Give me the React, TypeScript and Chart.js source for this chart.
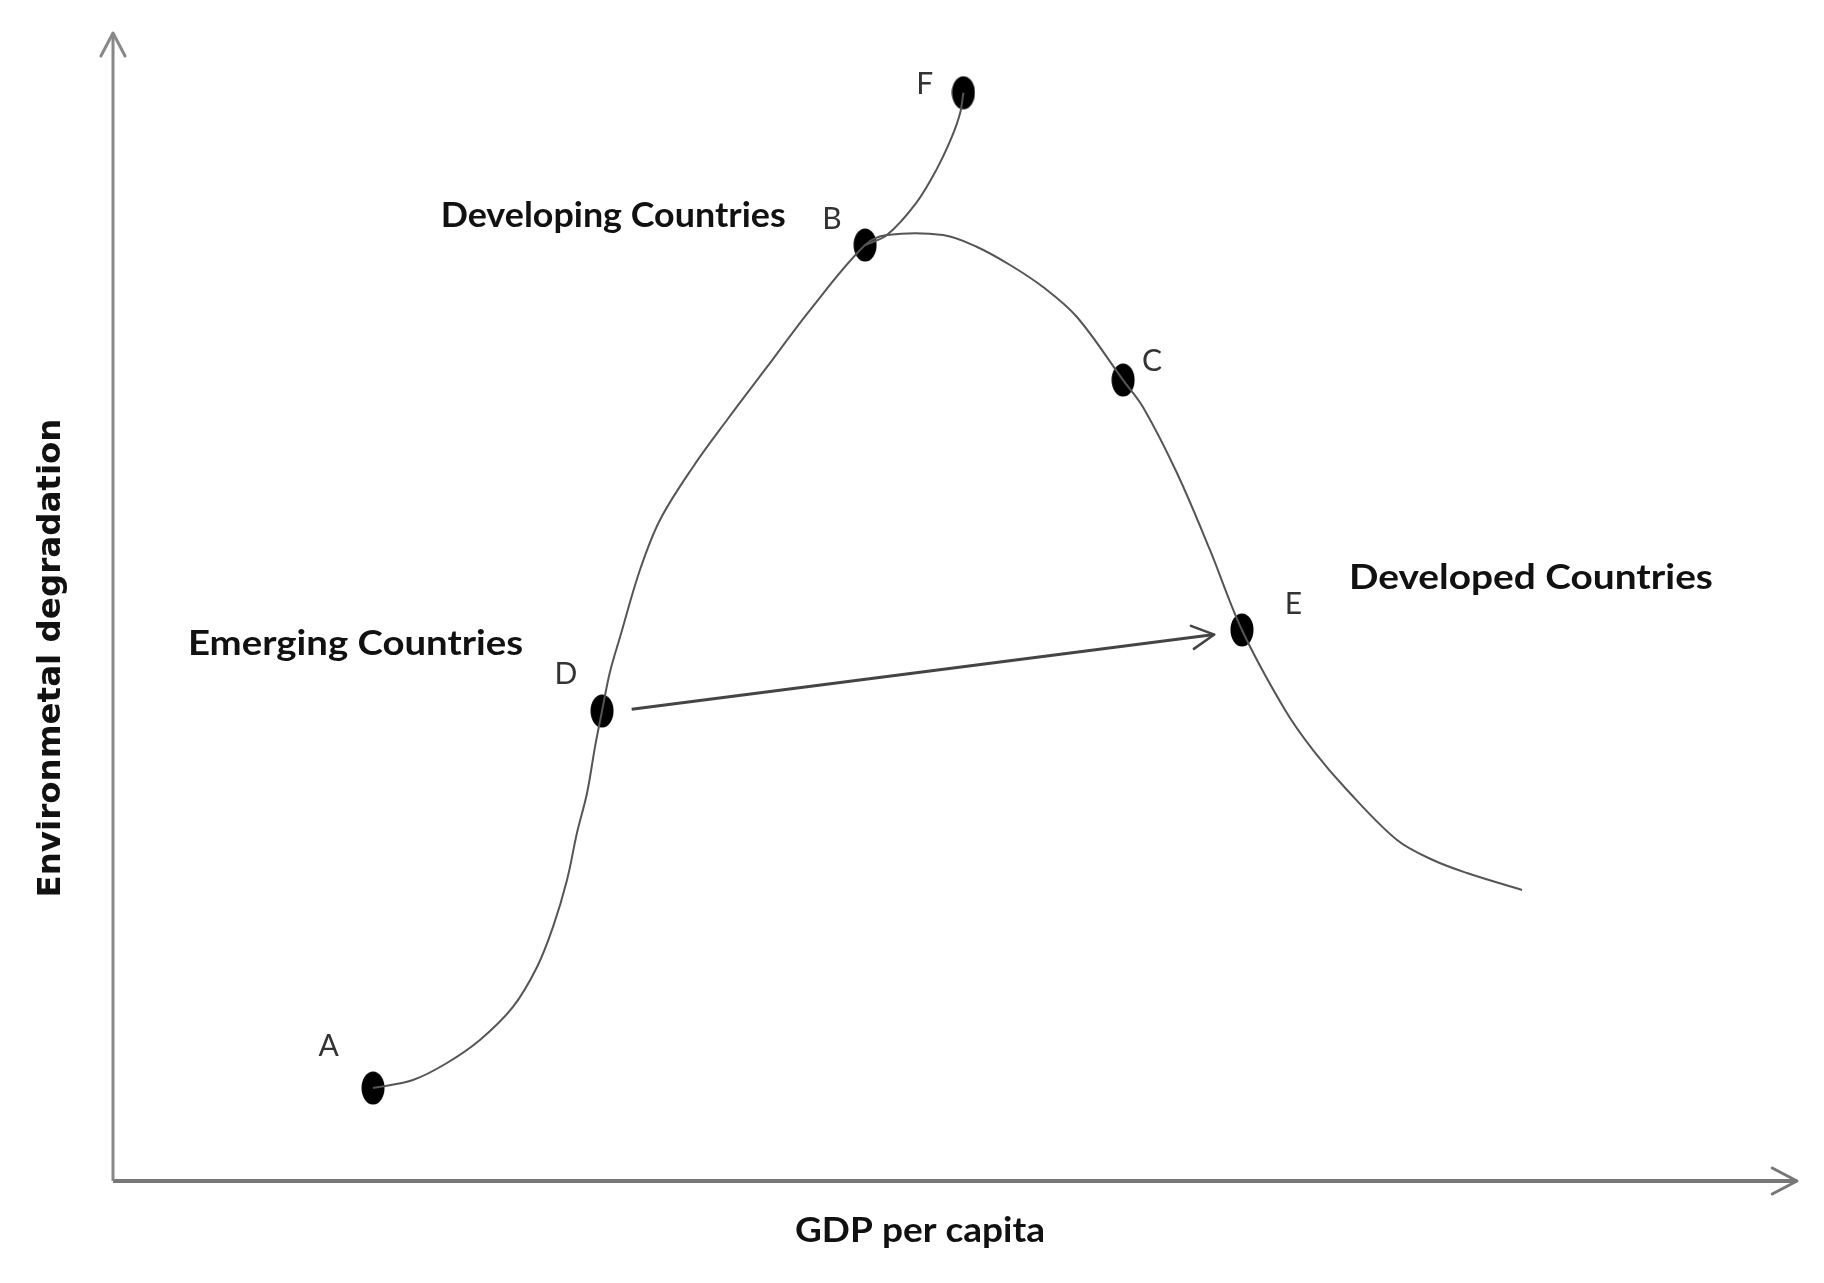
import React, { useEffect, useRef } from "react";
import { Chart, registerables } from "chart.js";

Chart.register(...registerables);

// Main curve (A -> D -> B -> flat top -> C -> E -> tail)
const curveX = [15.44, 17.81, 19.83, 21.79, 23.75, 25.18, 26.13, 26.96, 27.55, 28.15, 28.62, 29.04, 29.51, 30.11, 31.29, 32.48, 34.44, 36.46, 38.84, 41.39, 44.66, 45.96, 49.29, 51.31, 53.27, 55.23, 57.24, 59.98, 61.16, 63.18, 65.14, 67.04, 69.6, 71.26, 73.28, 76.25, 78.38, 80.4, 83.67];
const curveY = [8.1, 8.8, 10.28, 12.28, 15.16, 18.64, 22.13, 26.22, 30.31, 33.8, 37.8, 40.94, 44.34, 47.39, 53.22, 57.58, 62.2, 66.29, 70.91, 75.87, 81.53, 82.4, 82.4, 81.36, 79.79, 77.87, 75.26, 69.77, 67.42, 61.67, 54.97, 48.0, 41.03, 37.54, 34.06, 29.7, 27.96, 26.83, 25.35];

// Branch from B up to F
const branchX = [44.66, 45.96, 47.7, 48.9, 49.8, 50.3, 50.5];
const branchY = [81.53, 82.4, 85.2, 88.1, 90.9, 93.0, 94.8];

// Labelled points
const pointNames = ["A", "D", "B", "F", "C", "E"];
const pointX = [15.44, 29.04, 44.66, 50.5, 59.98, 67.04];
const pointY = [8.1, 40.94, 81.53, 94.8, 69.77, 48.0];
const letterX = [12.8, 26.9, 42.7, 48.2, 61.7, 70.1];
const letterY = [11.7, 44.1, 83.8, 95.5, 71.4, 50.2];

// Arrow D -> E
const arrowX = [30.8, 65.4];
const arrowY = [41.1, 47.6];

// Group labels
const groupNames = ["Developing Countries", "Emerging Countries", "Developed Countries"];
const groupX = [29.7, 14.4, 84.2];
const groupY = [84.1, 46.8, 52.5];

const xTitle = "GDP per capita";
const yTitle = "Environmetal degradation";

function makeEllipse(): HTMLCanvasElement {
  const c = document.createElement("canvas");
  c.width = 24;
  c.height = 34;
  const g = c.getContext("2d")!;
  g.fillStyle = "#000";
  g.beginPath();
  g.ellipse(12, 17, 11.5, 16.5, 0, 0, Math.PI * 2);
  g.fill();
  return c;
}

export default function App() {
  const ref = useRef<HTMLCanvasElement | null>(null);

  useEffect(() => {
    if (!ref.current) return;
    const zip = (xs: number[], ys: number[]) => xs.map((x, i) => ({ x, y: ys[i] }));
    const ellipse = makeEllipse();
    const groupWidths = [345, 335, 364];

    const annotate = {
      id: "annotate",
      afterDatasetsDraw(chart: any) {
        const { ctx, scales, chartArea } = chart;
        const sx = scales.x;
        const sy = scales.y;
        const px = (v: number) => sx.getPixelForValue(v);
        const py = (v: number) => sy.getPixelForValue(v);

        const head = (x0: number, y0: number, x1: number, y1: number, len: number, color: string, w: number) => {
          const ang = Math.atan2(y1 - y0, x1 - x0);
          const a = Math.PI / 6.5;
          ctx.save();
          ctx.strokeStyle = color;
          ctx.lineWidth = w;
          ctx.lineCap = "round";
          ctx.lineJoin = "round";
          ctx.beginPath();
          ctx.moveTo(x1 - len * Math.cos(ang - a), y1 - len * Math.sin(ang - a));
          ctx.lineTo(x1, y1);
          ctx.lineTo(x1 - len * Math.cos(ang + a), y1 - len * Math.sin(ang + a));
          ctx.stroke();
          ctx.restore();
        };

        const fitText = (t: string, x: number, y: number, font: string, width: number, rot = 0) => {
          ctx.save();
          ctx.font = font;
          const m = ctx.measureText(t).width;
          ctx.translate(x, y);
          if (rot) ctx.rotate(rot);
          ctx.scale(width / m, 1);
          ctx.fillText(t, 0, 0);
          ctx.restore();
        };

        // axis arrowheads
        head(px(0), py(0), px(0), py(100), 26, "#888", 3);
        head(px(0), py(0), px(100), py(0), 28, "#777", 3);
        // D -> E arrowhead
        head(px(arrowX[0]), py(arrowY[0]), px(arrowX[1]), py(arrowY[1]), 25, "#444", 2.5);

        ctx.save();
        ctx.textAlign = "center";
        ctx.textBaseline = "middle";
        ctx.fillStyle = "#111";
        groupNames.forEach((t, i) =>
          fitText(t, px(groupX[i]), py(groupY[i]), "bold 34px Lato", groupWidths[i])
        );
        ctx.fillStyle = "#333";
        ctx.font = "30px Lato";
        pointNames.forEach((t, i) => ctx.fillText(t, px(letterX[i]), py(letterY[i])));
        ctx.fillStyle = "#111";
        fitText(xTitle, (chartArea.left + chartArea.right) / 2 - 35, chartArea.bottom + 50, "bold 34px Lato", 250);
        fitText(
          yTitle,
          chartArea.left - 61,
          (chartArea.top + chartArea.bottom) / 2 + 51,
          "bold 32px 'DejaVu Sans'",
          479,
          -Math.PI / 2
        );
        ctx.restore();
      },
    };

    const chart = new Chart(ref.current, {
      type: "scatter",
      data: {
        datasets: [
          {
            data: [{ x: 0, y: 0 }, { x: 0, y: 100 }],
            showLine: true,
            borderColor: "#888",
            borderWidth: 3,
            pointRadius: 0,
            clip: false,
          } as any,
          {
            data: [{ x: 0, y: 0 }, { x: 100, y: 0 }],
            showLine: true,
            borderColor: "#777",
            borderWidth: 4,
            pointRadius: 0,
            clip: false,
          } as any,
          {
            data: zip(curveX, curveY),
            showLine: true,
            borderColor: "#555",
            borderWidth: 2,
            pointRadius: 0,
            tension: 0.35,
            clip: false,
          } as any,
          {
            data: zip(branchX, branchY),
            showLine: true,
            borderColor: "#555",
            borderWidth: 2,
            pointRadius: 0,
            tension: 0.35,
            clip: false,
          } as any,
          {
            data: zip(arrowX, arrowY),
            showLine: true,
            borderColor: "#444",
            borderWidth: 3,
            pointRadius: 0,
            clip: false,
          } as any,
          {
            data: zip(pointX, pointY),
            showLine: false,
            pointStyle: ellipse,
            pointRadius: 12,
            clip: false,
          } as any,
        ],
      },
      options: {
        animation: false,
        responsive: true,
        maintainAspectRatio: false,
        layout: { padding: { left: 113, right: 27, top: 33, bottom: 102 } },
        plugins: { legend: { display: false }, tooltip: { enabled: false } },
        events: [],
        scales: {
          x: { type: "linear", min: 0, max: 100, display: false },
          y: { type: "linear", min: 0, max: 100, display: false },
        },
      },
      plugins: [annotate],
    });
    return () => chart.destroy();
  }, []);

  return (
    <div style={{ position: "fixed", left: 0, top: 0, width: 1824, height: 1283, background: "#fff" }}>
      <canvas ref={ref} />
    </div>
  );
}
